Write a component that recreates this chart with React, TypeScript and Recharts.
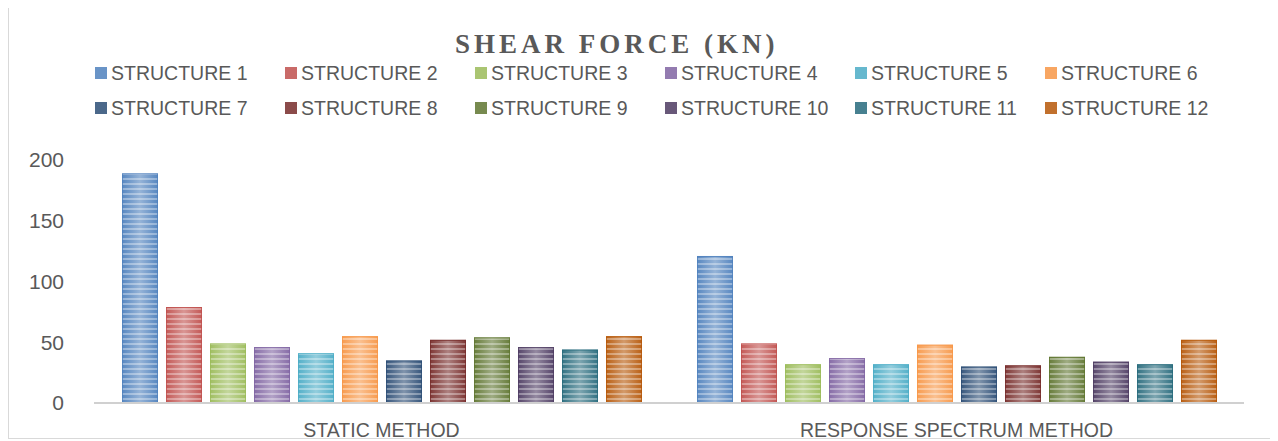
import { BarChart, Bar, XAxis, YAxis } from 'recharts'

const CATEGORIES = ['STATIC METHOD', 'RESPONSE SPECTRUM METHOD']
const SERIES = [
  'STRUCTURE 1', 'STRUCTURE 2', 'STRUCTURE 3', 'STRUCTURE 4',
  'STRUCTURE 5', 'STRUCTURE 6', 'STRUCTURE 7', 'STRUCTURE 8',
  'STRUCTURE 9', 'STRUCTURE 10', 'STRUCTURE 11', 'STRUCTURE 12',
]
const STATIC_VALUES = [189, 79, 49, 46, 41, 55, 35, 52, 54, 46, 44, 55]
const RSM_VALUES = [121, 49, 32, 37, 32, 48, 30, 31, 38, 34, 32, 52]
const Y_TICKS = [0, 50, 100, 150, 200]

const COLORS = [
  '#4F81BD', '#C0504D', '#9BBB59', '#8064A2', '#4BACC6', '#F79646',
  '#2C4D75', '#772C2A', '#5F7530', '#4D3B62', '#276A7C', '#B65708',
]

const FONT = '"Liberation Sans", Arial, sans-serif'
const TEXT = '#595959'

const rows = CATEGORIES.map((name, ci) => {
  const vals = ci === 0 ? STATIC_VALUES : RSM_VALUES
  const row: Record<string, string | number> = { name }
  SERIES.forEach((_, i) => { row[`s${i}`] = vals[i] })
  return row
})

/* eslint-disable @typescript-eslint/no-explicit-any */
function stripedBar(idx: number) {
  return (props: any) => {
    const { x, y, width, height } = props
    if (!height || height <= 0) return <g />
    return (
      <g>
        <rect x={x} y={y} width={width} height={height} fill={`url(#grad${idx})`} />
        <rect x={x} y={y} width={width} height={height} fill="url(#stripes)" />
        <rect x={x + 0.5} y={y + 0.5} width={width - 1} height={height - 1}
              fill="none" stroke={COLORS[idx]} strokeOpacity={0.8} />
      </g>
    )
  }
}

function LegendBlock() {
  return (
    <div style={{
      position: 'absolute', left: 86, top: 53, width: 1150,
      display: 'grid', gridTemplateColumns: 'repeat(6, 190px)', rowGap: 11,
    }}>
      {SERIES.map((s, i) => (
        <div key={s} style={{ display: 'flex', alignItems: 'center', height: 24 }}>
          <span style={{
            width: 12, height: 12, background: COLORS[i], opacity: 0.85,
            display: 'inline-block', marginRight: 4,
          }} />
          <span style={{ fontFamily: FONT, fontSize: 19.5, color: TEXT, lineHeight: '24px', whiteSpace: 'nowrap' }}>
            {s}
          </span>
        </div>
      ))}
    </div>
  )
}

export default function App() {
  return (
    <div style={{
      position: 'relative', width: 1261, height: 430, background: '#fff',
      borderLeft: '1px solid #d9d9d9', borderRight: '1px solid #d9d9d9',
      borderBottom: '1px solid #d9d9d9',
    }}>
      <div style={{
        position: 'absolute', left: 455 - 9, top: 23, whiteSpace: 'nowrap',
        fontFamily: '"Liberation Serif", "Times New Roman", serif', fontWeight: 700,
        fontSize: 27, lineHeight: '27px', color: TEXT, letterSpacing: 4,
      }}>
        SHEAR FORCE (KN)
      </div>
      <LegendBlock />
      <div style={{ position: 'absolute', left: 0, top: 0 }}>
        <BarChart width={1261} height={433} data={rows}
                  margin={{ top: 152, right: 26, left: 0, bottom: 3 }}
                  barSize={36} barGap={8} style={{ overflow: 'visible' }}>
          <defs>
            {COLORS.map((c, i) => (
              <linearGradient key={`g${i}`} id={`grad${i}`} x1="0" y1="0" x2="1" y2="0">
                <stop offset="0%" stopColor={c} stopOpacity={0.95} />
                <stop offset="50%" stopColor={c} stopOpacity={0.6} />
                <stop offset="100%" stopColor={c} stopOpacity={0.95} />
              </linearGradient>
            ))}
            <pattern id="stripes" patternUnits="userSpaceOnUse" width="8" height="5">
              <rect x="0" y="0" width="8" height="2" fill="#ffffff" fillOpacity={0.35} />
            </pattern>
          </defs>
          <XAxis dataKey="name" height={35}
            axisLine={{ stroke: '#d0d0d0', strokeWidth: 2 }}
            tickLine={false} tickSize={0} tickMargin={20}
            tick={{ fill: TEXT, fontSize: 19.5, fontFamily: FONT }} />
          <YAxis domain={[0, 200]} ticks={Y_TICKS} width={85}
            axisLine={false} tickLine={false} tickSize={0} tickMargin={30}
            tick={{ fill: TEXT, fontSize: 21, fontFamily: FONT }} />
          {SERIES.map((s, i) => (
            <Bar key={s} dataKey={`s${i}`} name={s} fill={COLORS[i]}
                 shape={stripedBar(i)} isAnimationActive={false} />
          ))}
        </BarChart>
      </div>
    </div>
  )
}
